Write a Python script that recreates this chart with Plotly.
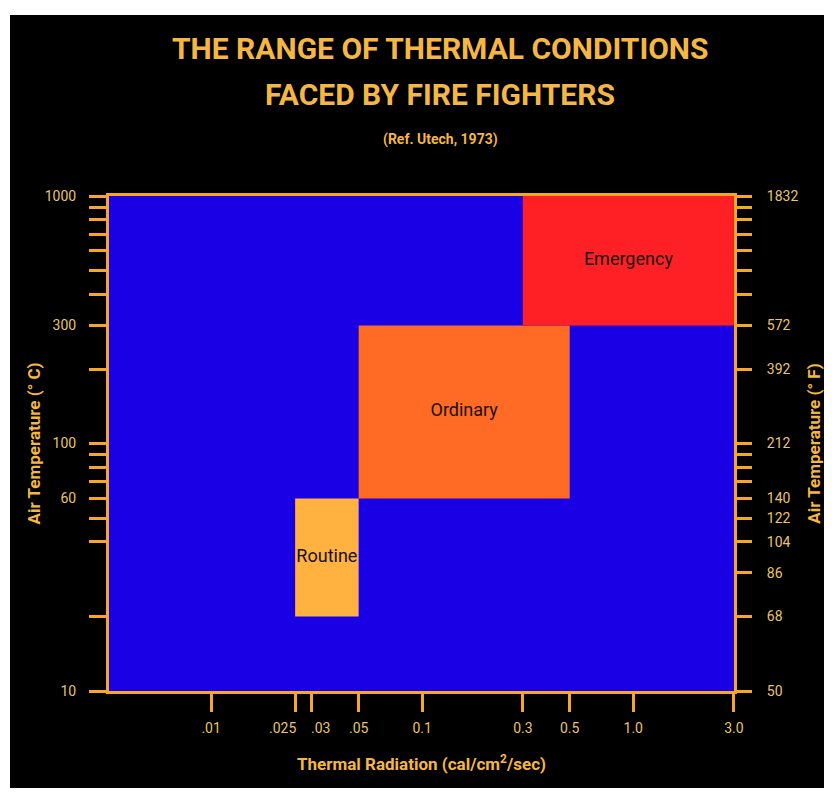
import math
import plotly.graph_objects as go

# ---- data ----
zones = ["Routine", "Ordinary", "Emergency"]
rad_low = [0.025, 0.05, 0.3]      # cal/cm2/sec
rad_high = [0.05, 0.5, 3.0]
temp_low = [20, 60, 300]          # deg C
temp_high = [60, 300, 1000]
zone_colors = ["#FFB23F", "#FF6B24", "#FF2026"]

x_ticks = [0.01, 0.025, 0.03, 0.05, 0.1, 0.3, 0.5, 1.0, 3.0]
x_ticktext = [".01", ".025", ".03", ".05", "0.1", "0.3", "0.5", "1.0", "3.0"]
crowded = [".025", ".03"]          # labels nudged apart so they do not collide
crowded_shift = [-13, 9]
c_ticks = [10, 60, 100, 300, 1000]
c_minor = [20, 40, 50, 70, 80, 90, 200, 400, 500, 600, 700, 800, 900]
f_ticks_c = [10, 20, 30, 40, 50, 60, 100, 200, 300, 1000]
f_ticktext = ["50", "68", "86", "104", "122", "140", "212", "392", "572", "1832"]
f_minor = [70, 80, 90, 400, 500, 600, 700, 800, 900]

FONT = "Roboto, Liberation Sans, sans-serif"
GOLD = "#F4B743"
LABEL = "#E9C46C"
LINE = "#F7A626"

W, H = 816, 780
L, R, T, B = 101, 90, 188, 97
PW, PH = W - L - R, H - T - B

fig = go.Figure()

for name, x0, x1, y0, y1, c in zip(zones, rad_low, rad_high, temp_low, temp_high, zone_colors):
    fig.add_trace(go.Scatter(
        x=[x0, x1, x1, x0, x0], y=[y0, y0, y1, y1, y0],
        fill="toself", fillcolor=c, mode="lines", line=dict(width=0, color=c),
        name=name, showlegend=False, hoverinfo="name"))

# zone labels at the geometric centre of each box
cx = [(a * b) ** 0.5 for a, b in zip(rad_low, rad_high)]
cy = [(a * b) ** 0.5 for a, b in zip(temp_low, temp_high)]
fig.add_trace(go.Scatter(
    x=cx, y=cy, text=zones, mode="text",
    textfont=dict(family=FONT, size=18, color="#1a1010"),
    showlegend=False, hoverinfo="skip"))

# invisible trace for the Fahrenheit axis
fig.add_trace(go.Scatter(x=[0.1], y=[100], yaxis="y2", mode="markers",
                         marker=dict(opacity=0), showlegend=False, hoverinfo="skip"))

# thin white border at the top and left of the picture
fig.add_shape(type="rect", xref="paper", yref="paper",
              x0=-1, x1=2, y0=(H - 7 - B) / PH, y1=2,
              fillcolor="white", line=dict(width=0), layer="below")
fig.add_shape(type="rect", xref="paper", yref="paper",
              x0=-1, x1=(2 - L) / PW, y0=-1, y1=2,
              fillcolor="white", line=dict(width=0), layer="below")

axis_common = dict(
    showgrid=False, zeroline=False, showline=True, linecolor=LINE, linewidth=3,
    ticks="outside", tickcolor=LINE, tickwidth=3, automargin=False,
    tickfont=dict(family=FONT, size=14, color=LABEL),
)

major_x = [v for v, t in zip(x_ticks, x_ticktext) if t not in crowded]
major_xt = [t for t in x_ticktext if t not in crowded]
crowded_x = [x_ticks[x_ticktext.index(t)] for t in crowded]

annotations = [
    dict(text="<b>THE RANGE OF THERMAL CONDITIONS</b>", xref="paper", yref="paper",
         x=(440 - 109) / PW, y=1 + (196 - 48) / PH, showarrow=False,
         xanchor="center", yanchor="middle",
         font=dict(family=FONT, size=30, color=GOLD)),
    dict(text="<b>FACED BY FIRE FIGHTERS</b>", xref="paper", yref="paper",
         x=(440 - 109) / PW, y=1 + (196 - 94) / PH, showarrow=False,
         xanchor="center", yanchor="middle",
         font=dict(family=FONT, size=30, color=GOLD)),
    dict(text="<b>(Ref. Utech, 1973)</b>", xref="paper", yref="paper",
         x=(440 - 109) / PW, y=1 + (196 - 140) / PH, showarrow=False,
         xanchor="center", yanchor="middle",
         font=dict(family=FONT, size=14, color=GOLD)),
]
for t, v, s in zip(crowded, crowded_x, crowded_shift):
    annotations.append(dict(
        text=t, xref="x", yref="paper", x=math.log10(v), y=-(728 - 691) / PH,
        xshift=s, showarrow=False, xanchor="center", yanchor="middle",
        font=dict(family=FONT, size=14, color=LABEL)))

fig.update_layout(
    width=W, height=H,
    margin=dict(l=L, r=R, t=T, b=B, pad=0),
    paper_bgcolor="black",
    plot_bgcolor="#1A00E4",
    xaxis=dict(
        type="log", range=[-2.484, 0.4775],
        tickmode="array", tickvals=major_x, ticktext=major_xt, tickangle=0,
        ticklen=18, ticklabelstandoff=4, mirror=True,
        minor=dict(tickmode="array", tickvals=crowded_x, ticks="outside",
                   ticklen=18, tickwidth=3, tickcolor=LINE),
        title=dict(text="<b>Thermal Radiation (cal/cm<sup>2</sup>/sec)</b>",
                   font=dict(family=FONT, size=17, color=GOLD), standoff=24),
        **axis_common),
    yaxis=dict(
        type="log", range=[1, 3],
        tickmode="array", tickvals=c_ticks, ticktext=[str(v) for v in c_ticks],
        ticklen=17, ticklabelstandoff=10, mirror=True,
        minor=dict(tickmode="array", tickvals=c_minor, ticks="outside",
                   ticklen=17, tickwidth=3, tickcolor=LINE),
        title=dict(text="<b>Air Temperature (° C)</b>",
                   font=dict(family=FONT, size=17, color=GOLD), standoff=0),
        **axis_common),
    yaxis2=dict(
        type="log", range=[1, 3], overlaying="y", side="right",
        tickmode="array", tickvals=f_ticks_c, ticktext=f_ticktext,
        ticklen=15, ticklabelstandoff=12,
        minor=dict(tickmode="array", tickvals=f_minor, ticks="outside",
                   ticklen=15, tickwidth=3, tickcolor=LINE),
        title=dict(text="<b>Air Temperature (° F)</b>",
                   font=dict(family=FONT, size=17, color=GOLD), standoff=12),
        **axis_common),
    annotations=annotations,
)

fig.write_html("out.html")
